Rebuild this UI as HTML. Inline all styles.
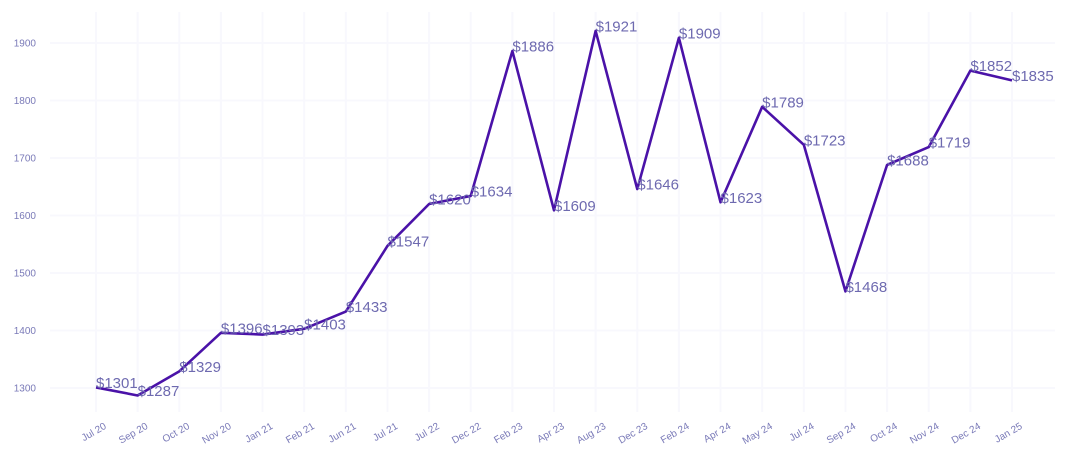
<!DOCTYPE html>
<html><head><meta charset="utf-8"><style>
body{margin:0;background:#fff;}
svg{display:block;font-family:"Liberation Sans",sans-serif;}
</style></head><body>
<svg id="chart" width="1070" height="465" viewBox="0 0 1070 465">
<g id="grid"></g>
<g id="yaxis"></g>
<g id="xaxis"></g>
<g id="series"></g>
</svg>
<script>
const categories=["Jul 20","Sep 20","Oct 20","Nov 20","Jan 21","Feb 21","Jun 21","Jul 21","Jul 22","Dec 22","Feb 23","Apr 23","Aug 23","Dec 23","Feb 24","Apr 24","May 24","Jul 24","Sep 24","Oct 24","Nov 24","Dec 24","Jan 25"];
const prices=[1301,1287,1329,1396,1393,1403,1433,1547,1620,1634,1886,1609,1921,1646,1909,1623,1789,1723,1468,1688,1719,1852,1835];
const yTicks=[1300,1400,1500,1600,1700,1800,1900];
const NS="http://www.w3.org/2000/svg";
const x=i=>96+i*(1012-96)/(categories.length-1);
const y=v=>388-(v-1300)*(345/600);
function mk(tag,attrs,parent){const e=document.createElementNS(NS,tag);for(const k in attrs)e.setAttribute(k,attrs[k]);parent.appendChild(e);return e;}
const grid=document.getElementById('grid'),ya=document.getElementById('yaxis'),xa=document.getElementById('xaxis'),se=document.getElementById('series');
categories.forEach((c,i)=>{
  const l=mk('line',{x1:x(i),x2:x(i),y1:12,y2:412,stroke:'#f8f8fd','stroke-width':2},grid);
  
  
  const t=mk('text',{x:x(i)+11,y:428,'text-anchor':'end','font-size':10,fill:'#7a7ab8',transform:`rotate(-30 ${x(i)+11} 428)`},xa);
  t.textContent=c;
  
  
});
yTicks.forEach(v=>{
  const l=mk('line',{x1:50,x2:1055,y1:y(v),y2:y(v),stroke:'#f8f8fd','stroke-width':2},grid);
  
  
  const t=mk('text',{x:36,y:y(v)+3.5,'text-anchor':'end','font-size':10,fill:'#7a7ab8'},ya);
  t.textContent=v;
  
  
});
const p=mk('polyline',{points:prices.map((v,i)=>x(i)+','+y(v)).join(' '),fill:'none',stroke:'#4a12a8','stroke-width':2.6,'stroke-linejoin':'round'},se);


prices.forEach((v,i)=>{
  const t=mk('text',{x:x(i),y:y(v)+0.5,'font-size':15,fill:'#6e6ab0'},se);
  t.textContent='$'+v;
  
  
});
</script>
</body></html>
